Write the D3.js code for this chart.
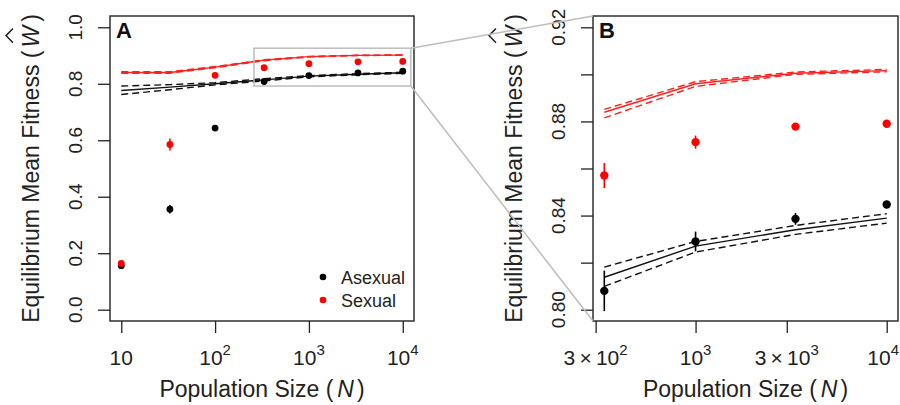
<!DOCTYPE html>
<html>
<head>
<meta charset="utf-8">
<script src="https://cdn.jsdelivr.net/npm/d3@7"></script>
<style>
  body { margin: 0; background: #fff; }
  svg { display: block; font-family: "Liberation Sans", Arial, sans-serif; }
</style>
</head>
<body>
<svg id="chart" width="900" height="405"></svg>
<script>
// population sizes used in the simulations
const popSize = [10, 33, 100, 333, 1000, 3333, 10000]

// simulated equilibrium mean fitness (points) and error bar half-widths
const asexMean = [0.156, 0.356, 0.643, 0.808, 0.829, 0.8386, 0.8447]
const asexErr  = [0.006, 0.015, 0.008, 0.0086, 0.0042, 0.0025, 0.001]
const sexMean  = [0.164, 0.585, 0.830, 0.857, 0.8712, 0.8778, 0.879]
const sexErr   = [0.006, 0.021, 0.006, 0.0053, 0.0028, 0.001, 0.001]

// theoretical predictions (solid) with bounds (dashed)
const asexTheory = [0.776, 0.788, 0.800, 0.8138, 0.827, 0.834, 0.8389]
const asexUpper  = [0.792, 0.797, 0.804, 0.8181, 0.829, 0.8358, 0.8408]
const asexLower  = [0.762, 0.779, 0.796, 0.8099, 0.8245, 0.832, 0.8368]
const sexTheory  = [0.840, 0.840, 0.859, 0.8839, 0.896, 0.9005, 0.9016]
const sexUpper   = [0.8425, 0.8425, 0.861, 0.8851, 0.8969, 0.901, 0.9021]
const sexLower   = [0.8375, 0.8375, 0.857, 0.8815, 0.8949, 0.900, 0.9011]

// axis ticks and labels
const xTicksA = [10, 100, 1000, 10000]
const xLabelsA = [["10", ""], ["10", "2"], ["10", "3"], ["10", "4"]]
const yTicksA = [0, 0.2, 0.4, 0.6, 0.8, 1.0]
const yLabelsA = ["0.0", "0.2", "0.4", "0.6", "0.8", "1.0"]

const xTicksB = [300, 1000, 3000, 10000]
const xLabelsB = [["3\u2009\u00d7\u200910", "2"], ["10", "3"], ["3\u2009\u00d7\u200910", "3"], ["10", "4"]]
const yTicksB = [0.80, 0.82, 0.84, 0.86, 0.88, 0.90, 0.92]
const yLabelsB = [[0.80, "0.80"], [0.84, "0.84"], [0.88, "0.88"], [0.92, "0.92"]]

// region of panel A shown enlarged in panel B
const zoomN = [260, 12200]
const zoomW = [0.792, 0.926]

const svg = d3.select("#chart")
svg.append("rect").attr("width", 900).attr("height", 405).attr("fill", "#fff")

// R style 4% padding of axis ranges
function padLog(lo, hi) {
  let a = Math.log10(lo), b = Math.log10(hi), d = (b - a) * 0.04
  return [Math.pow(10, a - d), Math.pow(10, b + d)]
}
function padLin(lo, hi) {
  let d = (hi - lo) * 0.04
  return [lo - d, hi + d]
}

function panel(p) {
  let x = d3.scaleLog().domain(padLog(p.xlim[0], p.xlim[1])).range([p.left, p.right])
  let y = d3.scaleLinear().domain(padLin(p.ylim[0], p.ylim[1])).range([p.bottom, p.top])
  let g = svg.append("g")

  // x axis ticks
  g.append("g")
    .attr("transform", `translate(0,${p.bottom})`)
    .call(d3.axisBottom(x).tickValues(p.xTicks).tickFormat("").tickSizeInner(12).tickSizeOuter(0))
    .call(a => a.select(".domain").remove())
    .selectAll("line").attr("stroke", "#222").attr("stroke-width", 1.3)

  let xl = g.append("g").selectAll("text")
    .data(p.xTicks)
    .enter()
    .append("text")
      .attr("x", d => x(d))
      .attr("y", p.bottom + 44)
      .attr("text-anchor", "middle")
      .attr("font-size", 21)
      .attr("fill", "#222")
  xl.append("tspan").text((d, i) => p.xLabels[i][0])
  xl.append("tspan")
    .attr("font-size", 15)
    .attr("dy", -10)
    .text((d, i) => p.xLabels[i][1])
  // keep the last label inside the page
  xl.each(function(d) {
    let bb = this.getBBox()
    if (bb.x + bb.width > 899) d3.select(this).attr("x", x(d) - (bb.x + bb.width - 899))
  })

  // y axis ticks
  g.append("g")
    .attr("transform", `translate(${p.left},0)`)
    .call(d3.axisLeft(y).tickValues(p.yTicks).tickFormat("").tickSizeInner(12).tickSizeOuter(0))
    .call(a => a.select(".domain").remove())
    .selectAll("line").attr("stroke", "#222").attr("stroke-width", 1.3)

  g.append("g").selectAll("text")
    .data(p.yLabels)
    .enter()
    .append("text")
      .attr("transform", d => `translate(${p.left - 28},${y(d[0])}) rotate(-90)`)
      .attr("text-anchor", "middle")
      .attr("font-size", 19)
      .attr("fill", "#222")
      .text(d => d[1])

  // titles
  let cx = (p.left + p.right) / 2, cy = (p.top + p.bottom) / 2
  let xt = g.append("text")
    .attr("x", cx)
    .attr("y", p.bottom + 76)
    .attr("text-anchor", "middle")
    .attr("font-size", 23)
    .attr("fill", "#222")
  xt.append("tspan").text("Population Size (")
  xt.append("tspan").attr("dx", 4).attr("font-style", "italic").text("N")
  xt.append("tspan").attr("dx", 3).text(")")

  let yg = g.append("g").attr("transform", `translate(${p.left - 71},${cy}) rotate(-90)`)
  let yt = yg.append("text")
    .attr("text-anchor", "middle")
    .attr("font-size", 23)
    .attr("fill", "#222")
  yt.append("tspan").text("Equilibrium Mean Fitness (")
  yt.append("tspan").attr("dx", 3).attr("font-style", "italic").text("W")
  yt.append("tspan").attr("dx", 4).text(")")
  let e = yt.node().getExtentOfChar(26)
  yg.append("path")
    .attr("d", d3.line()([[e.x + e.width * 0.22, -26], [e.x + e.width * 0.55, -33], [e.x + e.width * 0.88, -26]]))
    .attr("fill", "none")
    .attr("stroke", "#222")
    .attr("stroke-width", 1.5)

  // box
  g.append("rect")
    .attr("x", p.left).attr("y", p.top)
    .attr("width", p.right - p.left).attr("height", p.bottom - p.top)
    .attr("fill", "none").attr("stroke", "#222").attr("stroke-width", 1.4)

  // panel letter
  g.append("text")
    .attr("x", p.left + 6)
    .attr("y", p.top + 22)
    .attr("font-size", 22)
    .attr("font-weight", "bold")
    .attr("fill", "#111")
    .text(p.letter)

  let idx = d3.range(p.from, popSize.length)
  let line = d3.line().x(i => x(popSize[i]))

  let series = [
    [asexTheory, asexUpper, asexLower, "#111"],
    [sexTheory, sexUpper, sexLower, "#ff2020"]
  ]
  series.forEach(s => {
    [[s[0], null], [s[1], "7,4"], [s[2], "7,4"]].forEach(l => {
      g.append("path")
        .attr("d", line.y(i => y(l[0][i]))(idx))
        .attr("fill", "none")
        .attr("stroke", s[3])
        .attr("stroke-width", 1.4)
        .attr("stroke-dasharray", l[1])
    })
  })

  let pts = [[asexMean, asexErr, "#000"], [sexMean, sexErr, "#ff0000"]]
  pts.forEach(s => {
    g.append("g").selectAll("line")
      .data(idx)
      .enter()
      .append("line")
        .attr("x1", i => x(popSize[i])).attr("x2", i => x(popSize[i]))
        .attr("y1", i => y(s[0][i] - s[1][i]))
        .attr("y2", i => y(s[0][i] + s[1][i]))
        .attr("stroke", s[2])
        .attr("stroke-width", 1.6)
    g.append("g").selectAll("circle")
      .data(idx)
      .enter()
      .append("circle")
        .attr("cx", i => x(popSize[i]))
        .attr("cy", i => y(s[0][i]))
        .attr("r", p.r)
        .attr("fill", s[2])
  })

  return { x, y, g }
}

let A = panel({
  letter: "A", left: 110, right: 414, top: 16, bottom: 321,
  xlim: [10, 10000], ylim: [0, 1],
  xTicks: xTicksA, xLabels: xLabelsA,
  yTicks: yTicksA, yLabels: yTicksA.map((d, i) => [d, yLabelsA[i]]),
  from: 0, r: 3.4
})

let B = panel({
  letter: "B", left: 593, right: 898, top: 16, bottom: 321,
  xlim: [333, 10000], ylim: [0.80, 0.92],
  xTicks: xTicksB, xLabels: xLabelsB,
  yTicks: yTicksB, yLabels: yLabelsB,
  from: 3, r: 4.2
})

// legend in panel A
let legend = A.g.append("g")
;[["Asexual", "#000"], ["Sexual", "#ff0000"]].forEach((d, i) => {
  legend.append("circle")
    .attr("cx", 323).attr("cy", 277 + i * 23)
    .attr("r", 3.3).attr("fill", d[1])
  legend.append("text")
    .attr("x", 341).attr("y", 284 + i * 23)
    .attr("font-size", 18).attr("fill", "#222")
    .text(d[0])
})

// zoom box and connectors
let zx0 = A.x(zoomN[0]), zx1 = A.x(zoomN[1])
let zy0 = A.y(zoomW[1]), zy1 = A.y(zoomW[0])
svg.append("rect")
  .attr("x", zx0).attr("y", zy0)
  .attr("width", zx1 - zx0).attr("height", zy1 - zy0)
  .attr("fill", "none").attr("stroke", "#bdbdbd").attr("stroke-width", 1.5)

let bx = B.x.range()[0], by = B.y.range()
svg.append("path")
  .attr("d", d3.line()([[zx1, zy0], [bx, by[1]]]))
  .attr("stroke", "#bdbdbd").attr("stroke-width", 1.5)
svg.append("path")
  .attr("d", d3.line()([[zx1, zy1], [bx, by[0]]]))
  .attr("stroke", "#bdbdbd").attr("stroke-width", 1.5)
</script>
</body>
</html>
